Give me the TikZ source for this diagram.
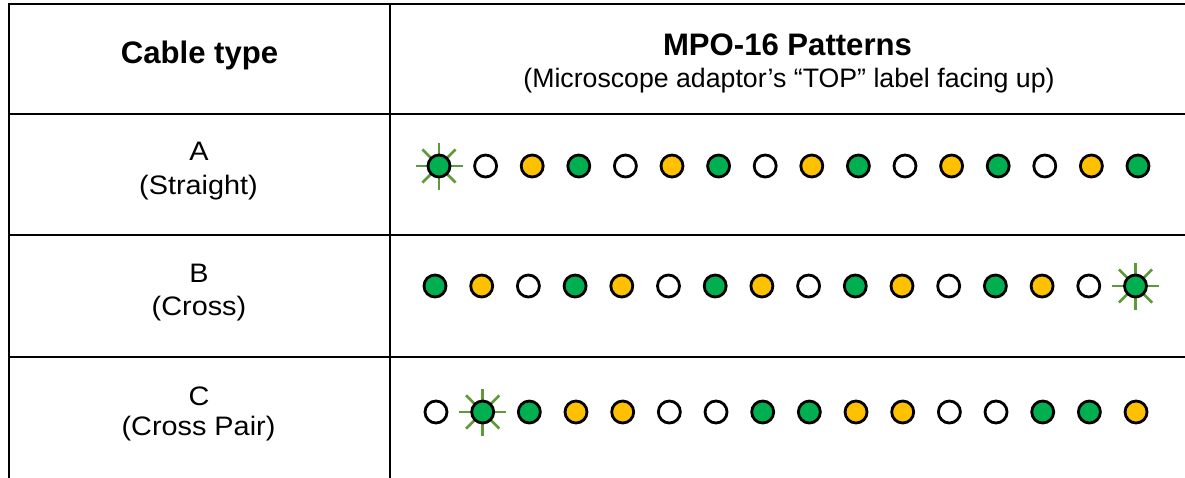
\documentclass[tikz,border=0pt]{standalone}
\usepackage{fontspec}
\setmainfont{Liberation Sans}
\newfontfamily\labfont[FakeStretch=1.08]{Liberation Sans}
\definecolor{fgreen}{HTML}{00B050}
\definecolor{fyellow}{HTML}{FFC000}
\definecolor{raygreen}{HTML}{5E9A3A}
\tikzset{
  tablerule/.style={line width=2.9pt, line cap=rect},
  fib/.style={circle, draw=black, line width=2.8pt, minimum size=22pt, inner sep=0pt},
  fibG/.style={fib, fill=fgreen},
  fibY/.style={fib, fill=fyellow},
  fibW/.style={fib, fill=white},
  ray/.style={draw=raygreen, line width=2.6pt},
  head/.style={font=\fontsize{31.1}{36}\selectfont\bfseries, anchor=base, inner sep=0pt},
  sublab/.style={font=\fontsize{26.7}{30}\selectfont, anchor=base, inner sep=0pt},
  lab/.style={font=\labfont\fontsize{26.7}{30}\selectfont, anchor=base, inner sep=0pt},
}
\begin{document}
\begin{tikzpicture}[x=1pt,y=-1pt]
\useasboundingbox (0,0) rectangle (1185,477);
% table rules
\draw[tablerule] (9,4) -- (1186,4);
\draw[tablerule] (9,114) -- (1186,114);
\draw[tablerule] (9,235) -- (1186,235);
\draw[tablerule] (9,357) -- (1186,357);
\draw[tablerule] (9,4) -- (9,478);
\draw[tablerule] (390,4) -- (390,478);
% header
\node[head] (hdrL) at (199.5,63) {Cable type};
\node[head] (hdrR) at (787.5,55) {MPO-16 Patterns};
\node[sublab] (hdrSub) at (789,87) {(Microscope adaptor’s “TOP” label facing up)};
% row labels
\node[lab] (labA) at (199,160) {A};
\node[lab] (labA2) at (198.5,194) {(Straight)};
\node[lab] (labB) at (199,282) {B};
\node[lab] (labB2) at (199,315) {(Cross)};
\node[lab] (labC) at (199,405) {C};
\node[lab] (labC2) at (198.5,435) {(Cross Pair)};
% bursts
\coordinate (burstA) at (439,166);
\coordinate (burstB) at (1135.5,286);
\coordinate (burstC) at (482.7,412);
\foreach \b in {burstA,burstB,burstC}{
  \foreach \a in {0,45,...,315}{
    \draw[ray] (\b) -- ++(\a:23.5);
  }
}
% fibres
\foreach \c [count=\i from 0] in {G,W,Y,G,W,Y,G,W,Y,G,W,Y,G,W,Y,G}{
  \node[fib\c] (a\i) at (439+46.6*\i,166) {};
}
\foreach \c [count=\i from 0] in {G,Y,W,G,Y,W,G,Y,W,G,Y,W,G,Y,W,G}{
  \node[fib\c] (b\i) at (435+46.7*\i,286) {};
}
\foreach \c [count=\i from 0] in {W,G,G,Y,Y,W,W,G,G,Y,Y,W,W,G,G,Y}{
  \node[fib\c] (c\i) at (436+46.67*\i,412) {};
}
\end{tikzpicture}
\end{document}
